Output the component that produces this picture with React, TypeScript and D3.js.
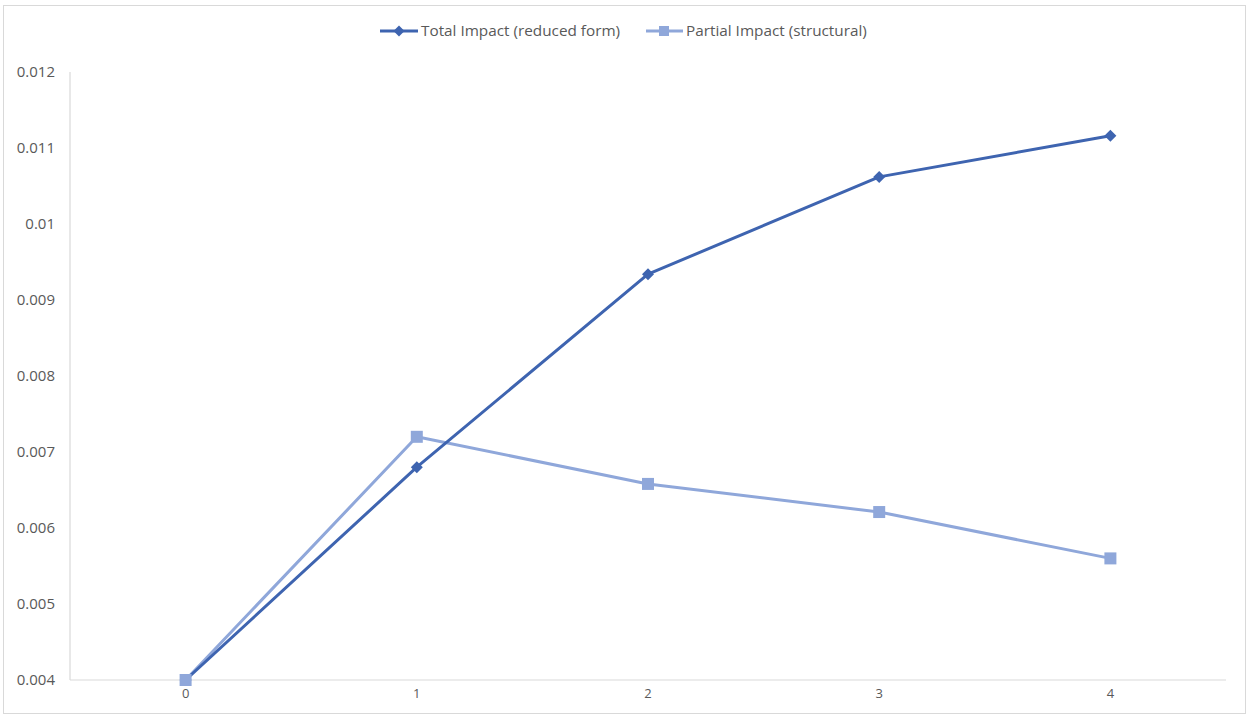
import React from "react";
import * as d3 from "d3";

const categories = ["0", "1", "2", "3", "4"];
const totalImpact = [0.004, 0.0068, 0.00934, 0.01062, 0.01116];
const partialImpact = [0.004, 0.0072, 0.00658, 0.00621, 0.0056];
const yTicks = [0.004, 0.005, 0.006, 0.007, 0.008, 0.009, 0.01, 0.011, 0.012];
const seriesNames = ["Total Impact (reduced form)", "Partial Impact (structural)"];

const W = 1247;
const H = 715;
const left = 70, right = 1226, top = 72, bottom = 680;
const dark = "#3E64B0";
const light = "#8FA7DA";
const font = "'Open Sans', Lato, sans-serif";

export default function App() {
  const x = d3.scaleBand<string>().domain(categories).range([left, right]);
  const y = d3.scaleLinear().domain([0.004, 0.012]).range([bottom, top]);
  const cx = (c: string) => (x(c) as number) + x.bandwidth() / 2;
  const line = d3.line<number>().x((_, i) => cx(categories[i])).y((v) => y(v));
  const diamond = (px: number, py: number, r = 6) =>
    `M${px},${py - r}L${px + r},${py}L${px},${py + r}L${px - r},${py}Z`;

  return (
    <svg width={W} height={H} style={{ position: "absolute", left: 0, top: 0, background: "#fff" }}>
      <rect x={3.5} y={5.5} width={1242} height={708} fill="#fff" stroke="#d9d9d9" strokeWidth={1} />
      {/* axes */}
      <line x1={left} x2={left} y1={top} y2={bottom} stroke="#d9d9d9" strokeWidth={1.2} />
      <line x1={left} x2={right} y1={bottom} y2={bottom} stroke="#d9d9d9" strokeWidth={1.2} />
      {yTicks.map((t) => (
        <text key={t} x={55} y={y(t)} dy="0.35em" textAnchor="end" fontFamily={font} fontSize={15} fill="#595959">
          {String(t)}
        </text>
      ))}
      {categories.map((c) => (
        <text key={c} x={cx(c)} y={698} textAnchor="middle" fontFamily={font} fontSize={13} fill="#595959">
          {c}
        </text>
      ))}
      {/* series */}
      <path d={line(partialImpact) || ""} fill="none" stroke={light} strokeWidth={3} strokeLinejoin="round" />
      <path d={line(totalImpact) || ""} fill="none" stroke={dark} strokeWidth={3} strokeLinejoin="round" />
      {totalImpact.map((v, i) => (
        <path key={i} d={diamond(cx(categories[i]), y(v))} fill={dark} />
      ))}
      {partialImpact.map((v, i) => (
        <rect key={i} x={cx(categories[i]) - 6} y={y(v) - 6} width={12} height={12} fill={light} />
      ))}
      {/* legend */}
      <g>
        <line x1={380} x2={418} y1={31} y2={31} stroke={dark} strokeWidth={3} />
        <path d={diamond(399, 31, 5.5)} fill={dark} />
        <text x={421} y={31} dy="0.35em" fontFamily={font} fontSize={15.3} fill="#595959">{seriesNames[0]}</text>
        <line x1={646} x2={683} y1={31} y2={31} stroke={light} strokeWidth={3} />
        <rect x={659} y={26} width={10} height={10} fill={light} />
        <text x={686} y={31} dy="0.35em" fontFamily={font} fontSize={15.3} fill="#595959">{seriesNames[1]}</text>
      </g>
    </svg>
  );
}
